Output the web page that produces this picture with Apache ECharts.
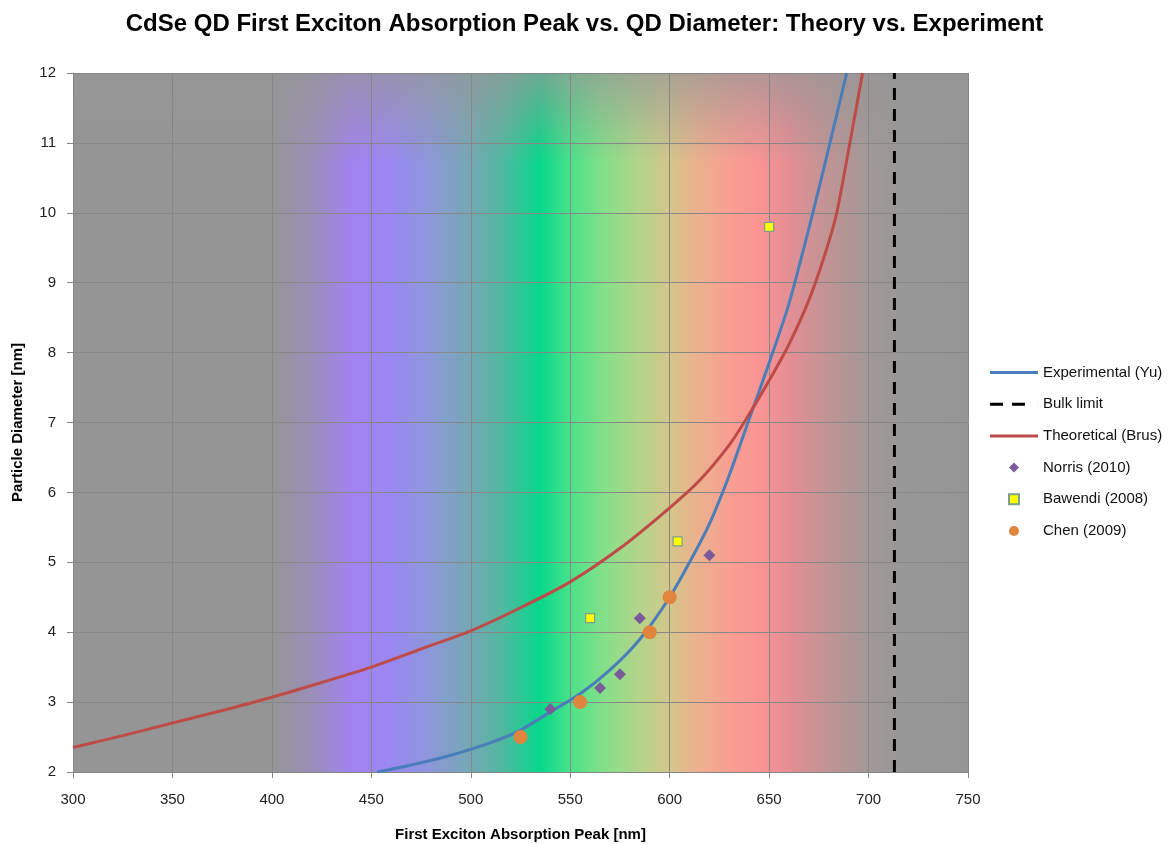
<!DOCTYPE html>
<html>
<head>
<meta charset="utf-8">
<script src="https://cdn.jsdelivr.net/npm/echarts@6/dist/echarts.min.js"></script>
<style>
html,body{margin:0;padding:0;background:#fff;}
#chart{width:1169px;height:844px;}
</style>
</head>
<body>
<div id="chart"></div>
<script>
// Axis ticks
const xTicks = {min: 300, max: 750, interval: 50};
const yTicks = {min: 2, max: 12, interval: 1};

// Experimental (Yu) curve: [wavelength nm, diameter nm]
const yuCurve = [
  [453,2.0],[470,2.1],[490,2.24],[510,2.42],[525,2.6],[540,2.86],[555,3.12],
  [570,3.46],[585,3.9],[600,4.5],[610,5.0],[620,5.55],[630,6.25],[640,7.05],
  [650,7.85],[660,8.7],[672,10.0],[680.6,11.0],[689,12.0]
];
// Theoretical (Brus) curve
const brusCurve = [
  [300,2.35],[325,2.52],[350,2.7],[375,2.88],[400,3.07],[425,3.28],[450,3.5],
  [475,3.76],[500,4.02],[525,4.35],[550,4.72],[575,5.2],[600,5.78],[615,6.17],
  [630,6.68],[640,7.12],[650,7.6],[660,8.12],[670,8.75],[678,9.4],[684,10.0],
  [690.6,11.0],[697,12.0]
];
// Bulk limit
const bulkLimit = [[713,2],[713,12]];
// Experimental data sets
const norris = [[540,2.9],[565,3.2],[575,3.4],[585,4.2],[620,5.1]];
const bawendi = [[560,4.2],[604,5.3],[650,9.8]];
const chen = [[525,2.5],[555,3.0],[590,4.0],[600,4.5]];

const legendNames = ['Experimental (Yu)','Bulk limit','Theoretical (Brus)','Norris (2010)','Bawendi (2008)','Chen (2009)'];

const FONT = 'Liberation Sans, Arial, sans-serif';

const ICON_LINE = 'path://M0,0h48v3h-48z';
const ICON_DASH = 'path://M0,0h13v3h-13z M22,0h13v3h-13z M47.95,0h0.05v3h-0.05z';
const ICON_DIAMOND = 'path://M5,0L10,5L5,10L0,5Z';
const ICON_SQUARE = 'path://M0,0h10v10h-10z';

const spectrum = new echarts.graphic.LinearGradient(0,0,1,0,[
  {offset:0.000, color:'#959595'},
  {offset:0.222, color:'#959595'},
  {offset:0.267, color:'#9a8eb8'},
  {offset:0.311, color:'#a282ef'},
  {offset:0.356, color:'#9a88f2'},
  {offset:0.400, color:'#8c98d8'},
  {offset:0.444, color:'#74a8b4'},
  {offset:0.480, color:'#50b8a0'},
  {offset:0.522, color:'#06d88a'},
  {offset:0.556, color:'#4ae28a'},
  {offset:0.590, color:'#80e088'},
  {offset:0.633, color:'#b4d48a'},
  {offset:0.667, color:'#d4c68a'},
  {offset:0.695, color:'#eab28e'},
  {offset:0.735, color:'#f89e92'},
  {offset:0.767, color:'#fa9494'},
  {offset:0.800, color:'#e48e94'},
  {offset:0.844, color:'#c09494'},
  {offset:0.889, color:'#a29898'},
  {offset:0.930, color:'#979797'},
  {offset:1.000, color:'#959595'}
]);

const chart = echarts.init(document.getElementById('chart'));
chart.setOption({
  backgroundColor: '#fff',
  animation: false,
  title: {
    text: 'CdSe QD First Exciton Absorption Peak vs. QD Diameter: Theory vs. Experiment',
    left: 'center', top: 7,
    textStyle: {fontFamily: FONT, fontSize: 24, fontWeight: 'bold', color: '#000'}
  },
  grid: {
    left: 73, top: 73, right: 201, bottom: 72,
    outerBoundsMode: 'none', containLabel: false,
    show: true, backgroundColor: spectrum, borderWidth: 0
  },
  legend: {
    orient: 'vertical', left: 985, top: 360,
    itemWidth: 48, itemHeight: 10, itemGap: 16.7,
    symbolKeepAspect: true,
    data: [
      {name: legendNames[0], icon: ICON_LINE, itemStyle: {borderWidth: 0}},
      {name: legendNames[1], icon: ICON_DASH, itemStyle: {borderWidth: 0}},
      {name: legendNames[2], icon: ICON_LINE, itemStyle: {borderWidth: 0}},
      {name: legendNames[3], icon: ICON_DIAMOND},
      {name: legendNames[4], icon: ICON_SQUARE},
      {name: legendNames[5], icon: 'circle'}
    ],
    textStyle: {fontFamily: FONT, fontSize: 15, color: '#111'}
  },
  xAxis: {
    type: 'value', min: xTicks.min, max: xTicks.max, interval: xTicks.interval,
    z: 1.5,
    name: 'First Exciton Absorption Peak [nm]', nameLocation: 'middle', nameGap: 55,
    nameTextStyle: {fontFamily: FONT, fontSize: 15, fontWeight: 'bold', color: '#000'},
    axisLine: {show: true, onZero: false, lineStyle: {color: '#868686', width: 1}},
    axisTick: {show: true, length: 6, lineStyle: {color: '#868686'}},
    axisLabel: {fontFamily: FONT, fontSize: 15, color: '#222', margin: 20},
    splitLine: {show: true, lineStyle: {color: '#878787', width: 1}}
  },
  yAxis: {
    type: 'value', min: yTicks.min, max: yTicks.max, interval: yTicks.interval,
    z: 1.5,
    name: 'Particle Diameter [nm]', nameLocation: 'middle', nameGap: 48,
    nameTextStyle: {fontFamily: FONT, fontSize: 15, fontWeight: 'bold', color: '#000'},
    axisLine: {show: true, onZero: false, lineStyle: {color: '#868686', width: 1}},
    axisTick: {show: true, length: 6, lineStyle: {color: '#868686'}},
    axisLabel: {fontFamily: FONT, fontSize: 15, color: '#222', margin: 17},
    splitLine: {show: true, lineStyle: {color: '#878787', width: 1}}
  },
  series: [
    {
      name: 'topFade', type: 'line', data: [], z: 1, silent: true,
      markArea: {
        silent: true,
        itemStyle: {
          color: new echarts.graphic.LinearGradient(0,0,0,1,[
            {offset:0, color:'rgba(150,150,150,0.7)'},
            {offset:1, color:'rgba(150,150,150,0)'}
          ])
        },
        data: [[{xAxis: xTicks.min, yAxis: yTicks.max}, {xAxis: xTicks.max, yAxis: 10.7}]]
      }
    },
    {
      name: 'Experimental (Yu)', type: 'line', data: yuCurve, smooth: 0.25,
      showSymbol: false, symbol: 'none', z: 3,
      lineStyle: {color: '#4a7ebb', width: 3},
      itemStyle: {color: '#4a7ebb'}
    },
    {
      name: 'Bulk limit', type: 'line', data: bulkLimit,
      showSymbol: false, symbol: 'none', z: 3,
      lineStyle: {color: '#000', width: 3, type: [12, 9]},
      itemStyle: {color: '#000'}
    },
    {
      name: 'Theoretical (Brus)', type: 'line', data: brusCurve, smooth: 0.25,
      showSymbol: false, symbol: 'none', z: 3,
      lineStyle: {color: '#be4b48', width: 3},
      itemStyle: {color: '#be4b48'}
    },
    {
      name: 'Norris (2010)', type: 'scatter', data: norris, symbol: 'diamond', symbolSize: 12, z: 4,
      itemStyle: {color: '#7a5a98', opacity: 1}
    },
    {
      name: 'Bawendi (2008)', type: 'scatter', data: bawendi, symbol: 'rect', symbolSize: 9, z: 4,
      itemStyle: {color: '#ffff00', borderColor: '#7fa08a', borderWidth: 1.2, opacity: 1}
    },
    {
      name: 'Chen (2009)', type: 'scatter', data: chen, symbol: 'circle', symbolSize: 14, z: 4,
      itemStyle: {color: '#e0843e', opacity: 1}
    }
  ]
});
</script>
</body>
</html>
